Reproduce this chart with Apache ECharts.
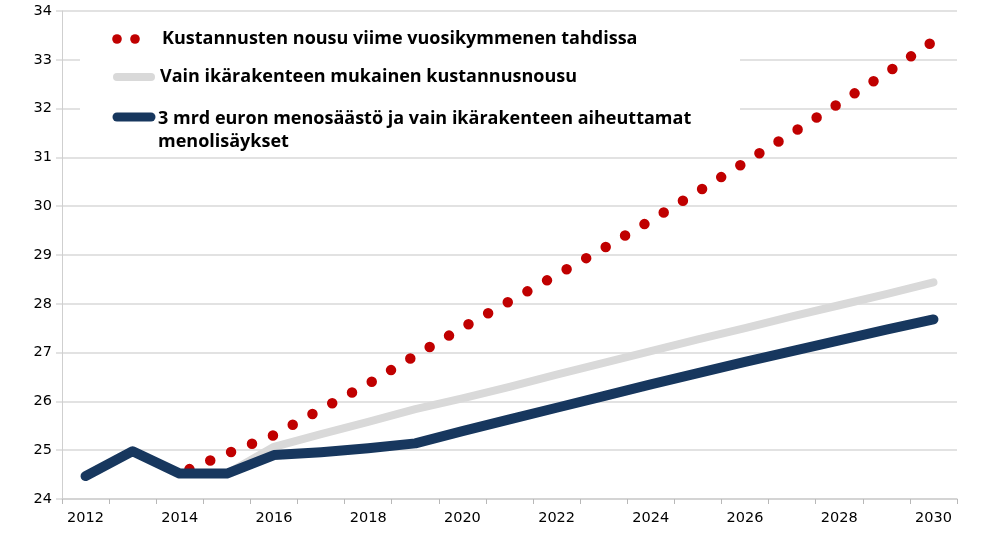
<!DOCTYPE html>
<html>
<head>
<meta charset="utf-8">
<script src="https://cdn.jsdelivr.net/npm/echarts@6/dist/echarts.min.js"></script>
<style>
html,body{margin:0;padding:0;background:#fff;}
#chart{width:1005px;height:539px;}
</style>
</head>
<body>
<div id="chart"></div>
<script>
// ---- data ----
const years = ['2012','2013','2014','2015','2016','2017','2018','2019','2020','2021','2022','2023','2024','2025','2026','2027','2028','2029','2030'];
const seriesNames = [
  'Kustannusten nousu viime vuosikymmenen tahdissa',
  'Vain ikärakenteen mukainen kustannusnousu',
  '3 mrd euron menosäästö ja vain ikärakenteen aiheuttamat\nmenolisäykset'
];
const trendRise = ['-','-',24.53,24.93,25.31,25.84,26.36,26.94,27.51,28.05,28.59,29.14,29.71,30.30,30.90,31.50,32.11,32.73,33.38];
const ageOnly   = ['-','-',24.52,24.52,25.07,25.33,25.58,25.84,26.06,26.30,26.55,26.79,27.03,27.27,27.50,27.74,27.97,28.20,28.44];
const savings   = [24.47,24.98,24.52,24.52,24.90,24.96,25.04,25.14,25.39,25.63,25.87,26.11,26.35,26.58,26.81,27.03,27.25,27.47,27.68];
const yMin = 24, yMax = 34, yStep = 1;

const colors = ['#C00000', '#D9D9D9', '#17375E'];

const chart = echarts.init(document.getElementById('chart'), null, {renderer: 'canvas'});

const legendFont = {fontFamily: '"Open Sans"', fontWeight: 'bold', fontSize: 18, fill: '#000', verticalAlign: 'top', lineHeight: 22};

chart.setOption({
  animation: false,
  backgroundColor: '#fff',
  grid: {left: 62, right: 48, top: 11, bottom: 40, containLabel: false},
  xAxis: {
    type: 'category',
    data: years,
    boundaryGap: true,
    axisLine: {show: true, lineStyle: {color: '#cfcfcf', width: 1.5}},
    axisTick: {show: true, interval: 0, length: 5, lineStyle: {color: '#b8b8b8', width: 1}},
    axisLabel: {interval: 1, margin: 12, fontFamily: '"DejaVu Sans"', fontSize: 14.5, color: '#000'},
    splitLine: {show: false}
  },
  yAxis: {
    type: 'value',
    min: yMin, max: yMax, interval: yStep,
    axisLine: {show: true, lineStyle: {color: '#cfcfcf', width: 1}},
    axisTick: {show: true, length: 6, lineStyle: {color: '#d9d9d9', width: 1.5}},
    axisLabel: {margin: 10, fontFamily: '"DejaVu Sans"', fontSize: 14.5, color: '#000'},
    splitLine: {show: true, lineStyle: {color: '#d9d9d9', width: 1.5}}
  },
  series: [
    {
      name: seriesNames[0], type: 'line', data: trendRise, symbol: 'none', silent: true, z: 2,
      lineStyle: {color: colors[0], width: 10.5, type: [0, 22.5], dashOffset: 12, cap: 'round', join: 'round'}
    },
    {
      name: seriesNames[1], type: 'line', data: ageOnly, symbol: 'none', silent: true, z: 3,
      lineStyle: {color: colors[1], width: 8, cap: 'round', join: 'round'}
    },
    {
      name: seriesNames[2], type: 'line', data: savings, symbol: 'none', silent: true, z: 4,
      lineStyle: {color: colors[2], width: 10, cap: 'round', join: 'round'}
    }
  ],
  graphic: [
    {type: 'rect', z: 1, shape: {x: 80, y: 20, width: 660, height: 130}, style: {fill: '#fff'}},
    {type: 'circle', z: 1, shape: {cx: 117, cy: 39, r: 4.8}, style: {fill: colors[0]}},
    {type: 'circle', z: 1, shape: {cx: 135, cy: 39, r: 4.8}, style: {fill: colors[0]}},
    {type: 'text', z: 1, x: 162, y: 28, style: Object.assign({text: seriesNames[0]}, legendFont)},
    {type: 'line', z: 1, shape: {x1: 117, y1: 77, x2: 151, y2: 77}, style: {stroke: colors[1], lineWidth: 8, lineCap: 'round'}},
    {type: 'text', z: 1, x: 160, y: 66, style: Object.assign({text: seriesNames[1]}, legendFont)},
    {type: 'line', z: 1, shape: {x1: 117, y1: 117, x2: 151, y2: 117}, style: {stroke: colors[2], lineWidth: 9, lineCap: 'round'}},
    {type: 'text', z: 1, x: 158, y: 107, style: Object.assign({text: seriesNames[2], lineHeight: 23}, legendFont, {lineHeight: 23})}
  ]
});
</script>
</body>
</html>
